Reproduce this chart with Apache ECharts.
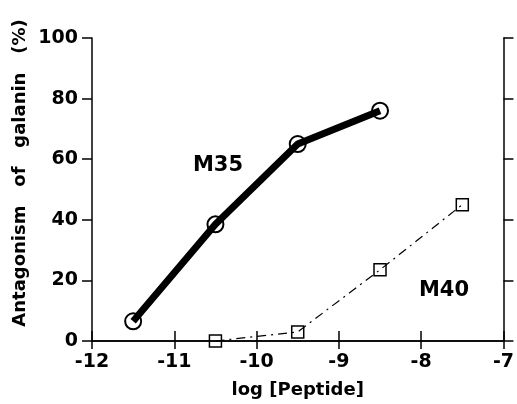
<!DOCTYPE html>
<html><head><meta charset="utf-8">
<script src="https://cdn.jsdelivr.net/npm/echarts@6/dist/echarts.min.js"></script>
<style>html,body{margin:0;padding:0;background:#fff}#c{width:517px;height:404px}</style>
</head><body><div id="c"></div>
<script>
var logConc = [-11.5, -10.5, -9.5, -8.5, -7.5];
var m35 = [6.5, 38.5, 65, 76];
var m40x = [-10.5, -9.5, -8.5, -7.5];
var m40 = [0, 3, 23.5, 45];
var xTicks = [-12, -11, -10, -9, -8, -7];
var yTicks = [0, 20, 40, 60, 80, 100];

var m35Data = m35.map(function (v, i) { return [logConc[i], v]; });
var m40Data = m40.map(function (v, i) { return [m40x[i], v]; });

var F = '"DejaVu Sans", Verdana, sans-serif';
var chart = echarts.init(document.getElementById('c'));
var axisLine = { show: true, lineStyle: { color: '#000', width: 1.5 } };
chart.setOption({
  animation: false,
  backgroundColor: '#fff',
  grid: { left: 92, right: 10, top: 38, bottom: 62 },
  xAxis: [{
    type: 'value', position: 'bottom', min: -12, max: -7, interval: 1,
    axisLine: axisLine, splitLine: { show: false },
    axisTick: { show: true, length: 8, lineStyle: { color: '#000', width: 1.5 } },
    axisLabel: { color: '#000', fontFamily: F, fontWeight: 'bold', fontSize: 19, margin: 12,
      formatter: function (v) { return xTicks.indexOf(v) >= 0 ? String(v) : ''; } },
    name: 'log [Peptide]', nameLocation: 'middle', nameGap: 40,
    nameTextStyle: { color: '#000', fontFamily: F, fontWeight: 'bold', fontSize: 18 }
  }, {
    type: 'value', position: 'top', min: -12, max: -7, interval: 1,
    axisLine: axisLine, splitLine: { show: false },
    axisTick: { show: true, length: 10, lineStyle: { color: '#000', width: 1.5 } },
    axisLabel: { show: false }
  }],
  yAxis: [{
    type: 'value', position: 'left', min: 0, max: 100, interval: 20,
    axisLine: axisLine, splitLine: { show: false },
    axisTick: { show: true, length: 10, lineStyle: { color: '#000', width: 1.5 } },
    axisLabel: { color: '#000', fontFamily: F, fontWeight: 'bold', fontSize: 19, margin: 14,
      formatter: function (v) { return yTicks.indexOf(v) >= 0 ? String(v) : ''; } }
  }, {
    type: 'value', position: 'right', min: 0, max: 100, interval: 20,
    axisLine: axisLine, splitLine: { show: false },
    axisTick: { show: true, length: 10, lineStyle: { color: '#000', width: 1.5 } },
    axisLabel: { show: false }
  }],
  series: [{
    name: 'M35', type: 'line', data: m35Data,
    lineStyle: { color: '#000', width: 7 },
    symbol: 'circle', symbolSize: 16,
    itemStyle: { color: 'rgba(255,255,255,0)', borderColor: '#000', borderWidth: 2 },
    z: 3
  }, {
    name: 'M40', type: 'line', data: m40Data,
    lineStyle: { color: '#000', width: 1.2, type: [9, 5, 2, 5] },
    symbol: 'rect', symbolSize: 12,
    itemStyle: { color: 'rgba(255,255,255,0)', borderColor: '#000', borderWidth: 1.5 },
    z: 3
  }],
  graphic: [{
    type: 'text', x: 20, y: 173, rotation: Math.PI / 2,
    style: { text: 'Antagonism   of   galanin   (%)', fill: '#000', font: 'bold 18px ' + F,
      align: 'center', verticalAlign: 'middle' }
  }, {
    type: 'text', x: 218, y: 166,
    style: { text: 'M35', fill: '#000', font: 'bold 21px ' + F, align: 'center', verticalAlign: 'middle' }
  }, {
    type: 'text', x: 444, y: 291,
    style: { text: 'M40', fill: '#000', font: 'bold 21px ' + F, align: 'center', verticalAlign: 'middle' }
  }]
});
</script></body></html>
